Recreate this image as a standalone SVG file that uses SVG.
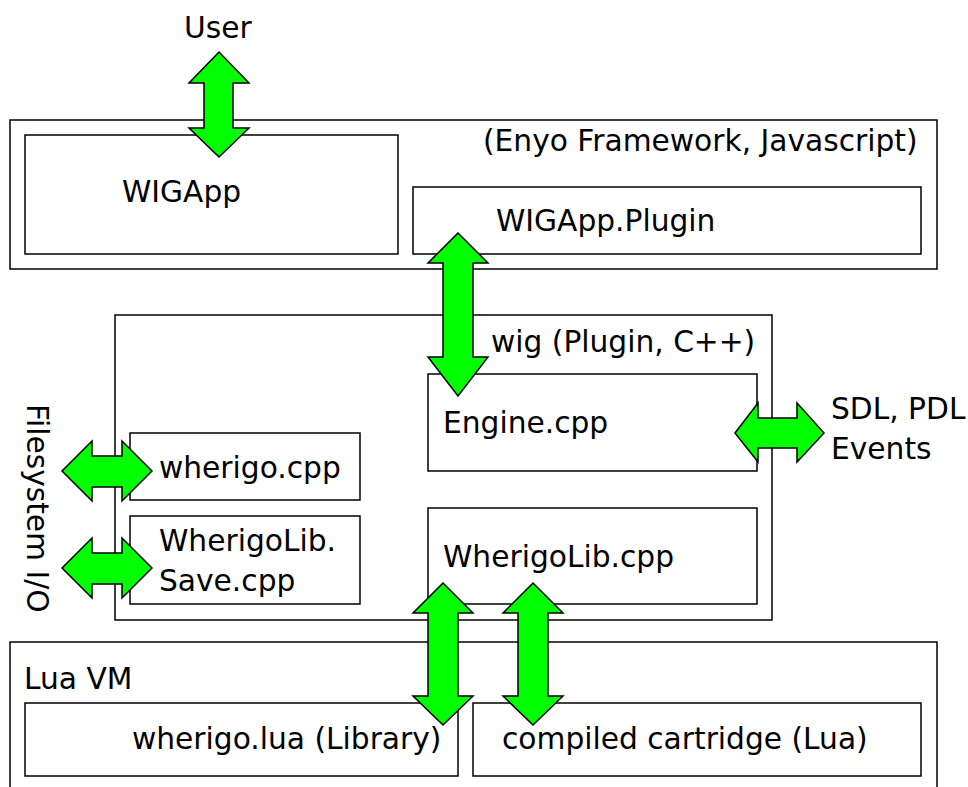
<svg xmlns="http://www.w3.org/2000/svg" width="968" height="787" viewBox="0 0 968 787">
<style>
.box{fill:#fff;stroke:#000;stroke-width:1.5}
.frame{fill:none;stroke:#000;stroke-width:1.5}
.t{font-family:"DejaVu Sans",sans-serif;font-size:29.7px;fill:#000}
.arr{fill:#00ff00;stroke:#000;stroke-width:1.5;stroke-linejoin:miter}
</style>
<rect width="968" height="787" fill="#fff"/>
<g id="enyo">
<rect class="frame" x="10" y="120" width="927" height="149"/>
<text class="t" x="483" y="151">(Enyo Framework, Javascript)</text>
</g>
<g id="wigapp">
<rect class="box" x="25" y="135" width="373" height="119"/>
<text class="t" x="122" y="202">WIGApp</text>
</g>
<g id="wigapp-plugin">
<rect class="box" x="413" y="187" width="508" height="67"/>
<text class="t" x="496" y="231">WIGApp.Plugin</text>
</g>
<g id="wig">
<rect class="frame" x="115" y="315" width="657" height="305"/>
<text class="t" x="491" y="352">wig (Plugin, C++)</text>
</g>
<g id="engine">
<rect class="box" x="428" y="374" width="329" height="97"/>
<text class="t" x="443" y="433">Engine.cpp</text>
</g>
<g id="wherigo-cpp">
<rect class="box" x="130" y="433" width="230" height="67"/>
<text class="t" x="159" y="478">wherigo.cpp</text>
</g>
<g id="wherigolib-save">
<rect class="box" x="130" y="516" width="230" height="88"/>
<text class="t" x="159" y="551">WherigoLib.</text>
<text class="t" x="159" y="591">Save.cpp</text>
</g>
<g id="wherigolib-cpp">
<rect class="box" x="428" y="508" width="329" height="96"/>
<text class="t" x="443" y="567">WherigoLib.cpp</text>
</g>
<g id="luavm">
<rect class="frame" x="10" y="642" width="927" height="160"/>
<text class="t" x="24" y="689">Lua VM</text>
</g>
<g id="wherigo-lua">
<rect class="box" x="25" y="703" width="433" height="73"/>
<text class="t" x="132" y="749">wherigo.lua (Library)</text>
</g>
<g id="cartridge">
<rect class="box" x="473" y="703" width="448" height="73"/>
<text class="t" x="502" y="749">compiled cartridge (Lua)</text>
</g>
<g id="user">
<text class="t" x="184" y="38">User</text>
</g>
<g id="sdl">
<text class="t" x="831" y="419">SDL, PDL</text>
<text class="t" x="831" y="459">Events</text>
</g>
<g id="filesystem">
<text class="t" transform="translate(27,404) rotate(90)">Filesystem I/O</text>
</g>
<g id="connectors">
<polygon class="arr" points="219,52 249,83 233,83 233,128 249,128 219,157 189,128 204,128 204,83 189,83"/>
<polygon class="arr" points="458,233 488,263 473,263 473,357 488,357 458,396 428,357 443,357 443,263 428,263"/>
<polygon class="arr" points="735,433 758,403 758,418 797,418 797,403 824,433 797,462 797,448 758,448 758,462"/>
<polygon class="arr" points="62,471 92,441 92,456 122,456 122,441 152,471 122,501 122,487 92,487 92,501"/>
<polygon class="arr" points="62,568 92,538 92,553 122,553 122,538 152,568 122,598 122,584 92,584 92,598"/>
<polygon class="arr" points="443,583 473,613 458,613 458,696 473,696 443,725 413,696 428,696 428,613 413,613"/>
<polygon class="arr" points="533,583 563,613 548,613 548,696 563,696 533,725 503,696 518,696 518,613 503,613"/>
</g>
</svg>
